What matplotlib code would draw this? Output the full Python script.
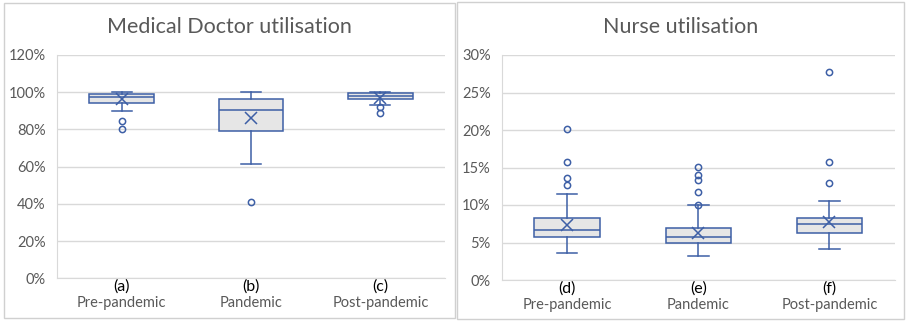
import matplotlib.pyplot as plt
from matplotlib.patches import Rectangle
from matplotlib.ticker import FuncFormatter
import numpy as np

plt.rcParams['font.family'] = ['Lato', 'DejaVu Sans']

# box plot summaries, in percent
periods = ['Pre-pandemic', 'Pandemic', 'Post-pandemic']

doc_tags = ['(a)', '(b)', '(c)']
doc_q1 = [94.4, 79.2, 96.5]
doc_med = [97.6, 90.3, 98.1]
doc_q3 = [98.9, 96.3, 99.4]
doc_lo = [90.1, 61.3, 93.0]
doc_hi = [100.0, 100.0, 100.0]
doc_mean = [96.2, 86.1, 96.8]
doc_out = [[84.7, 80.4], [41.2], [92.0, 88.7]]

nurse_tags = ['(d)', '(e)', '(f)']
nurse_q1 = [5.7, 4.93, 6.27]
nurse_med = [6.7, 5.77, 7.42]
nurse_q3 = [8.3, 6.97, 8.27]
nurse_lo = [3.56, 3.16, 4.13]
nurse_hi = [11.5, 9.96, 10.6]
nurse_mean = [7.33, 6.3, 7.73]
nurse_out = [[20.1, 15.8, 13.6, 12.7], [10.0, 11.8, 13.3, 14.0, 15.1], [27.8, 15.8, 12.9]]

blue = '#3d5fa6'
grey_txt = '#595959'
grid_c = '#d9d9d9'


def draw(ax, tags, q1, med, q3, lo, hi, mean, out, ymax, step):
    stats = []
    for i in range(3):
        stats.append(dict(q1=q1[i], med=med[i], q3=q3[i], whislo=lo[i],
                          whishi=hi[i], mean=mean[i], fliers=out[i]))
    ax.bxp(stats, positions=[1, 2, 3], widths=0.5, patch_artist=True,
           showmeans=True, meanline=False,
           boxprops=dict(facecolor='#e6e6e6', edgecolor=blue, linewidth=1.1),
           medianprops=dict(color=blue, linewidth=1.1),
           whiskerprops=dict(color=blue, linewidth=1.1),
           capprops=dict(color=blue, linewidth=1.1),
           capwidths=0.155,
           meanprops=dict(marker='x', markeredgecolor=blue, markersize=9,
                          markeredgewidth=1.1),
           flierprops=dict(marker='o', markerfacecolor='none', markeredgecolor=blue,
                           markersize=4.5, markeredgewidth=1.1))
    ax.set_xlim(0.5, 3.5)
    ax.set_ylim(0, ymax)
    ax.set_yticks(np.arange(0, ymax + step / 2, step))
    ax.yaxis.set_major_formatter(FuncFormatter(lambda v, p: '%d%%' % round(v)))
    ax.grid(axis='y', color=grid_c, linewidth=1)
    ax.set_axisbelow(True)
    for s in ['top', 'right']:
        ax.spines[s].set_visible(False)
    for s in ['left', 'bottom']:
        ax.spines[s].set_color(grid_c)
    ax.tick_params(axis='both', length=0, labelcolor=grey_txt, labelsize=10.5)
    ax.tick_params(axis='y', pad=8)
    ax.set_xticks([1, 2, 3])
    ax.set_xticklabels(periods)
    ax.tick_params(axis='x', pad=13)
    for i, t in enumerate(tags):
        ax.annotate(t, xy=(i + 1, 0), xycoords=('data', 'axes fraction'),
                    xytext=(0, -1), textcoords='offset points', ha='center', va='top',
                    fontsize=11.5, color='black')


fig = plt.figure(figsize=(9.07, 3.21), dpi=100)

# chart frames
fig.add_artist(Rectangle((3.5 / 907, 1 - 317.5 / 321), 451 / 907, 315 / 321,
                         transform=fig.transFigure, fill=False, edgecolor='#d0d0d0', lw=1))
fig.add_artist(Rectangle((456.5 / 907, 1 - 319 / 321), 447.5 / 907, 317 / 321,
                         transform=fig.transFigure, fill=False, edgecolor='#d0d0d0', lw=1))

# titles centred on each frame
fig.text(229 / 907, 1 - 27 / 321, 'Medical Doctor utilisation', ha='center', va='center',
         fontsize=15.5, color=grey_txt)
fig.text(680.5 / 907, 1 - 27 / 321, 'Nurse utilisation', ha='center', va='center',
         fontsize=15.5, color=grey_txt)

ax1 = fig.add_axes([57 / 907, 1 - 278.3 / 321, 388 / 907, 223.3 / 321])
ax2 = fig.add_axes([501.7 / 907, 1 - 280 / 321, 393.3 / 907, 225 / 321])

draw(ax1, doc_tags, doc_q1, doc_med, doc_q3,
     doc_lo, doc_hi, doc_mean, doc_out, 120, 20)
draw(ax2, nurse_tags, nurse_q1, nurse_med, nurse_q3,
     nurse_lo, nurse_hi, nurse_mean, nurse_out, 30, 5)

fig.savefig('out.png', dpi=100)
